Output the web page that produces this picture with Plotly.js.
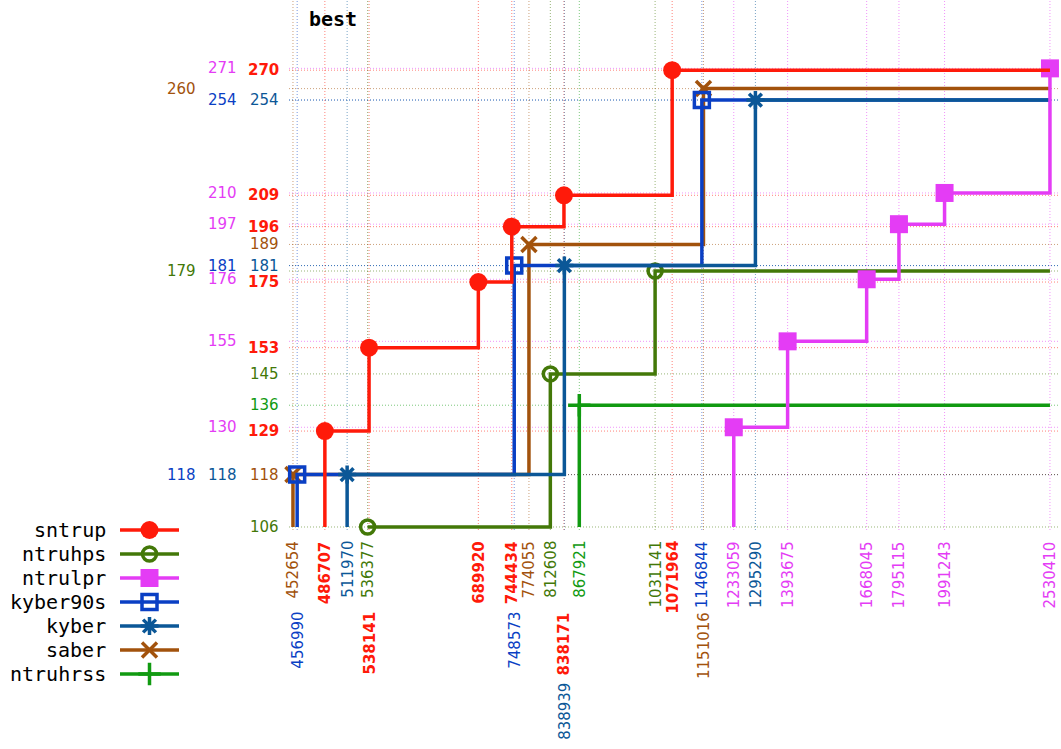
<!DOCTYPE html>
<html><head><meta charset="utf-8">
<script src="https://cdn.plot.ly/plotly-3.0.1.min.js"></script>
<style>html,body{margin:0;padding:0;background:#fff}</style>
</head><body><div id="chart" style="width:1061px;height:749px"></div>
<script>
// ---- data ----
const schemes = ['sntrup','ntruhps','ntrulpr','kyber90s','kyber','saber','ntruhrss'];
const sntrupCycles   = [486707, 538141, 689920, 744434, 838171, 1071964];
const sntrupBits     = [129, 153, 175, 196, 209, 270];
const ntruhpsCycles  = [536377, 812608, 1031141];
const ntruhpsBits    = [106, 145, 179];
const ntrulprCycles  = [1233059, 1393675, 1668045, 1795115, 1991243, 2530410];
const ntrulprBits    = [130, 155, 176, 197, 210, 271];
const kyber90sCycles = [456990, 748573, 1146844];
const kyber90sBits   = [118, 181, 254];
const kyberCycles    = [511970, 838939, 1295290];
const kyberBits      = [118, 181, 254];
const saberCycles    = [452654, 774055, 1151016];
const saberBits      = [118, 189, 260];
const ntruhrssCycles = [867921];
const ntruhrssBits   = [136];
const titleText = 'best';

// ---- layout helpers (positions / styles, not data) ----
const xLabelRow = {
  sntrup:[0,1,0,0,1,0], ntruhps:[0,0,0], ntrulpr:[0,0,0,0,0,0],
  kyber90s:[1,1,0], kyber:[0,2,0], saber:[0,0,1], ntruhrss:[0]
};
const yLabelCol = {
  sntrup:[0,0,0,0,0,0], ntruhps:[0,0,2], ntrulpr:[1,1,1,1,1,1],
  kyber90s:[2,1,1], kyber:[1,0,0], saber:[0,0,2], ntruhrss:[0]
};
const style = {
  sntrup:  {color:'#ff1a0a', symbol:'circle',          size:18, lw:0,   bold:true},
  ntruhps: {color:'#437808', symbol:'circle-open',     size:14, lw:3.5, bold:false},
  ntrulpr: {color:'#e43cf5', symbol:'square',          size:18, lw:0,   bold:false},
  kyber90s:{color:'#0a3fc4', symbol:'square-open',     size:15, lw:3.5, bold:false},
  kyber:   {color:'#0b5797', symbol:'asterisk-open',   size:15, lw:3.5, bold:false},
  saber:   {color:'#a2520c', symbol:'x-thin-open',     size:15, lw:3.5, bold:false},
  ntruhrss:{color:'#119a11', symbol:'cross-thin-open', size:16, lw:3.5, bold:false}
};
const dataOf = {
  sntrup:[sntrupCycles,sntrupBits], ntruhps:[ntruhpsCycles,ntruhpsBits],
  ntrulpr:[ntrulprCycles,ntrulprBits], kyber90s:[kyber90sCycles,kyber90sBits],
  kyber:[kyberCycles,kyberBits], saber:[saberCycles,saberBits],
  ntruhrss:[ntruhrssCycles,ntruhrssBits]
};
const drawOrder = ['ntruhrss','ntruhps','saber','kyber90s','kyber','ntrulpr','sntrup'];

const W = 1061, H = 749;
const plotL = 289, plotR = 1058, plotB = 530;
const colX = [281, 239, 198];

function rgba(hex, a){
  const n = parseInt(hex.slice(1),16);
  return 'rgba('+((n>>16)&255)+','+((n>>8)&255)+','+(n&255)+','+a+')';
}

let allX = [], allY = [];
schemes.forEach(s => { allX = allX.concat(dataOf[s][0]); allY = allY.concat(dataOf[s][1]); });
const xMax = Math.max(...allX), yMin = Math.min(...allY);

const traces = [], shapes = [], annotations = [];

// gridlines + labels
schemes.forEach(s => {
  const [xs, ys] = dataOf[s]; const st = style[s];
  xs.forEach((x, i) => {
    shapes.push({type:'line', layer:'below', xref:'x', yref:'y domain', x0:x, x1:x, y0:0, y1:1,
      line:{color:rgba(st.color,0.55), width:1, dash:'1px,2px'}});
    const t = String(x);
    annotations.push({xref:'x', yref:'paper', x:Math.log10(x), y:(H-plotB)/H, xanchor:'center', yanchor:'top',
      yshift:-(9 + 71*xLabelRow[s][i]), textangle:-90, showarrow:false,
      text: st.bold ? '<b>'+t+'</b>' : t,
      font:{family:'DejaVu Sans', size:15, color:st.color}});
  });
  ys.forEach((y, i) => {
    shapes.push({type:'line', layer:'below', xref:'x domain', yref:'y', x0:0, x1:1, y0:y, y1:y,
      line:{color:rgba(st.color,0.55), width:1, dash:'1px,2px'}});
    const t = String(y);
    annotations.push({xref:'paper', yref:'y', x:colX[yLabelCol[s][i]]/W, y:Math.log10(y), xanchor:'right', yanchor:'middle',
      showarrow:false, text: st.bold ? '<b>'+t+'</b>' : t,
      font:{family:'DejaVu Sans', size:15, color:st.color}});
  });
});

// step lines and markers
drawOrder.forEach(s => {
  const [xs, ys] = dataOf[s]; const st = style[s];
  const lx = xs.slice(), ly = ys.slice();
  if (ly[0] > yMin) { lx.unshift(xs[0]); ly.unshift(yMin); }
  if (lx[lx.length-1] < xMax) { lx.push(xMax); ly.push(ys[ys.length-1]); }
  traces.push({x:lx, y:ly, mode:'lines', line:{shape:'hv', color:st.color, width:3.5},
    showlegend:false, hoverinfo:'skip', cliponaxis:false});
  traces.push({x:xs, y:ys, mode:'markers', cliponaxis:false, showlegend:false, hoverinfo:'skip',
    marker:{symbol:st.symbol, size:st.size, color:st.color, line:{color:st.color, width:st.lw}}});
});

// custom legend (text left, symbol right)
schemes.forEach((s, r) => {
  const st = style[s];
  traces.push({x:[0,1], y:[r,r], xaxis:'x2', yaxis:'y2', mode:'lines',
    line:{color:st.color, width:3.5}, showlegend:false, hoverinfo:'skip'});
  traces.push({x:[0.5], y:[r], xaxis:'x2', yaxis:'y2', mode:'markers', cliponaxis:false,
    marker:{symbol:st.symbol, size:st.size, color:st.color, line:{color:st.color, width:st.lw}},
    showlegend:false, hoverinfo:'skip'});
  annotations.push({xref:'paper', yref:'y2', x:108/W, y:r, xanchor:'right', yanchor:'middle',
    showarrow:false, text:s, font:{family:'DejaVu Sans Mono', size:20, color:'#000'}});
});

annotations.push({xref:'paper', yref:'paper', x:307/W, y:1-19/H, xanchor:'left', yanchor:'middle',
  showarrow:false, text:'<b>'+titleText+'</b>', font:{family:'DejaVu Sans Mono', size:20, color:'#000'}});

const rowPx0 = 530, rowStep = 24;
const layout = {
  width:W, height:H, margin:{l:0,r:0,t:0,b:0}, paper_bgcolor:'#fff', plot_bgcolor:'rgba(0,0,0,0)',
  showlegend:false,
  xaxis:{type:'log', domain:[plotL/W, plotR/W], range:[5.65185, 6.41113], showgrid:false, zeroline:false,
    showticklabels:false, ticks:'', showline:false, fixedrange:true},
  yaxis:{type:'log', domain:[(H-plotB)/H, 1], range:[2.02263, 2.49374], showgrid:false, zeroline:false,
    showticklabels:false, ticks:'', showline:false, fixedrange:true},
  xaxis2:{domain:[120/W, 179/W], range:[0,1], anchor:'y2', visible:false, fixedrange:true},
  yaxis2:{domain:[0,1], range:[(H-rowPx0)/rowStep, -rowPx0/rowStep], anchor:'x2', visible:false, fixedrange:true},
  shapes:shapes, annotations:annotations
};
Plotly.newPlot('chart', traces, layout, {displayModeBar:false, staticPlot:true});
</script></body></html>
